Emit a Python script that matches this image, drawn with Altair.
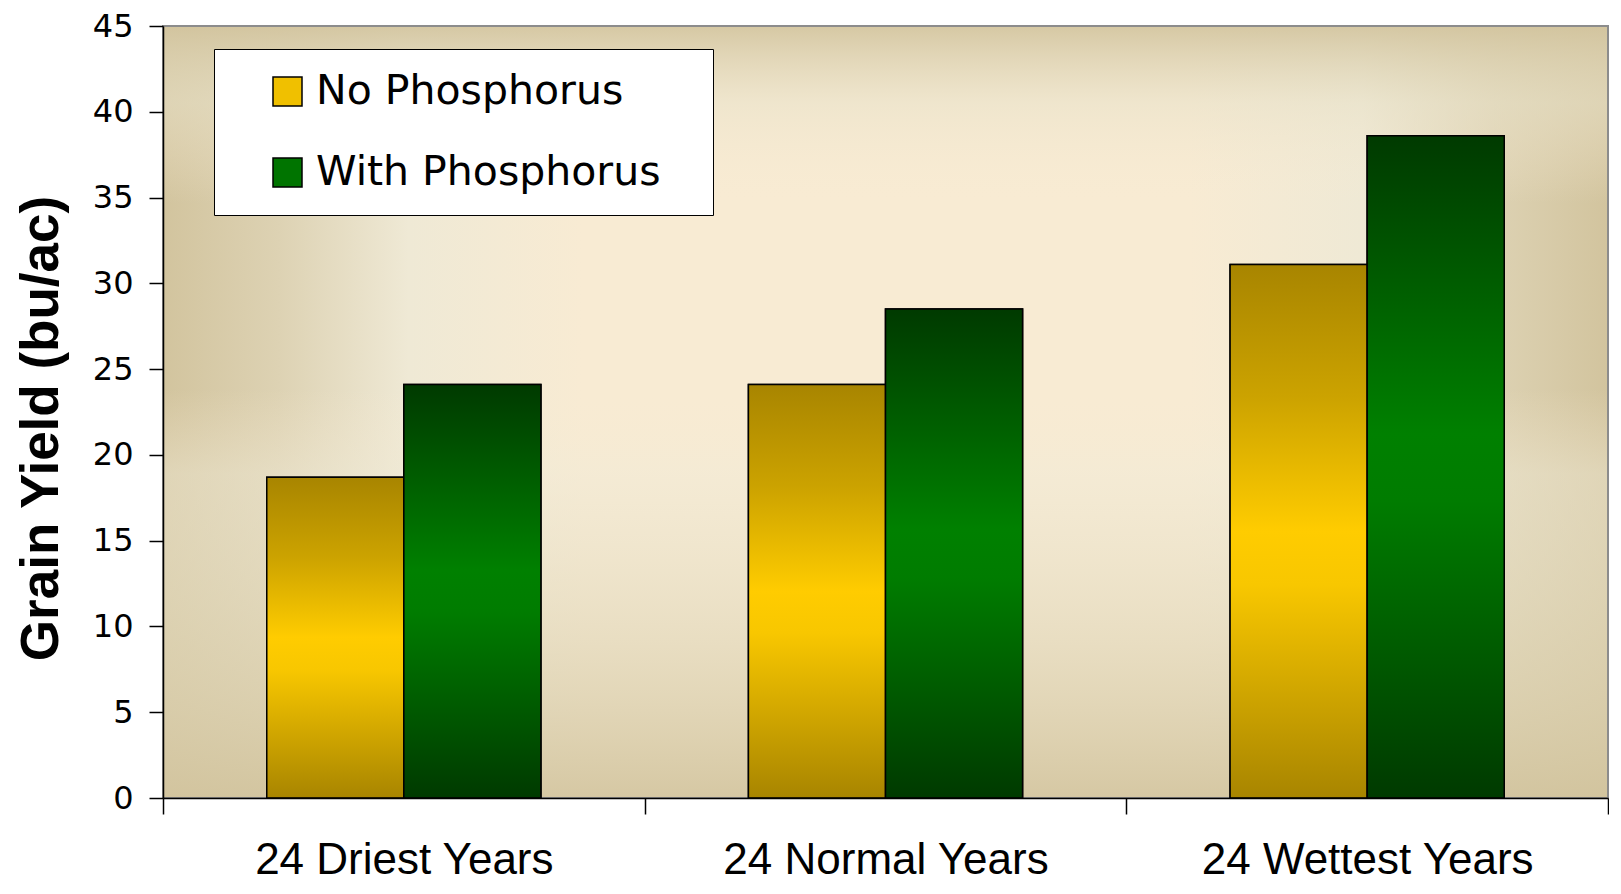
import altair as alt
import pandas as pd

categories = ["24 Driest Years", "24 Normal Years", "24 Wettest Years"]
series = ["No Phosphorus", "With Phosphorus"]
no_phosphorus = [18.7, 24.1, 31.1]
with_phosphorus = [24.1, 28.5, 38.6]
y_ticks = [0, 5, 10, 15, 20, 25, 30, 35, 40, 45]

rows = []
for c, a, b in zip(categories, no_phosphorus, with_phosphorus):
    rows.append({"period": c, "treatment": series[0], "yield": a})
    rows.append({"period": c, "treatment": series[1], "yield": b})
df = pd.DataFrame(rows)

W, H = 1445, 772

GOLD_GRAD = {
    "gradient": "linear", "x1": 0, "y1": 0, "x2": 0, "y2": 1,
    "stops": [
        {"offset": 0.0, "color": "#A88500"},
        {"offset": 0.25, "color": "#CCA300"},
        {"offset": 0.5, "color": "#FFCC00"},
        {"offset": 0.6, "color": "#F8C700"},
        {"offset": 1.0, "color": "#A88500"},
    ],
}
GREEN_GRAD = {
    "gradient": "linear", "x1": 0, "y1": 0, "x2": 0, "y2": 1,
    "stops": [
        {"offset": 0.0, "color": "#003A00"},
        {"offset": 0.45, "color": "#008000"},
        {"offset": 0.55, "color": "#007C00"},
        {"offset": 1.0, "color": "#003A00"},
    ],
}
H_GRAD = {
    "gradient": "linear", "x1": 0, "y1": 0, "x2": 1, "y2": 0,
    "stops": [
        {"offset": 0.0, "color": "#D2C49E"},
        {"offset": 0.08, "color": "#DDD2B3"},
        {"offset": 0.17, "color": "#EFE9D5"},
        {"offset": 0.29, "color": "#F8EBD3"},
        {"offset": 0.71, "color": "#F8EBD3"},
        {"offset": 0.83, "color": "#EFE9D5"},
        {"offset": 0.92, "color": "#DDD2B3"},
        {"offset": 1.0, "color": "#D2C49E"},
    ],
}
V_GRAD = {
    "gradient": "linear", "x1": 0, "y1": 0, "x2": 0, "y2": 1,
    "stops": [
        {"offset": 0.0, "color": "rgba(210,196,158,0.9)"},
        {"offset": 0.10, "color": "rgba(232,225,200,0.55)"},
        {"offset": 0.23, "color": "rgba(248,235,211,0)"},
        {"offset": 0.47, "color": "rgba(248,235,211,0)"},
        {"offset": 0.58, "color": "rgba(240,234,214,0.45)"},
        {"offset": 0.8, "color": "rgba(224,214,184,0.65)"},
        {"offset": 1.0, "color": "rgba(210,196,158,0.9)"},
    ],
}

x_enc = alt.X(
    "period:N", sort=categories,
    scale=alt.Scale(paddingInner=0, paddingOuter=0),
    axis=alt.Axis(
        title=None, labelAngle=0, labelFont="Liberation Sans", labelFontSize=44,
        labelColor="black", labelLimit=0, tickBand="extent", tickSize=16,
        tickColor="black", tickWidth=1.5, domainColor="black", domainWidth=1.5,
        labelPadding=24, zindex=1,
    ),
)
xo_enc = alt.XOffset(
    "treatment:N", sort=series,
    scale=alt.Scale(domain=series, paddingInner=0, paddingOuter=0.757),
)
y_enc = alt.Y(
    "yield:Q",
    scale=alt.Scale(domain=[0, 45], nice=False),
    axis=alt.Axis(
        values=y_ticks, grid=False, labelFont="DejaVu Sans", labelFontSize=32,
        labelColor="black", tickSize=14, tickColor="black", tickWidth=1.5,
        domainColor="black", domainWidth=1.5, labelPadding=16,
        title="Grain Yield (bu/ac)", titleFont="Liberation Sans", titleFontSize=53,
        titleFontWeight="bold", titleColor="black", titlePadding=24,
        titleY=H / 2 + 16, zindex=1,
    ),
)

panel = alt.Data(values=[{"panel": 1}])
bg_h = alt.Chart(panel).mark_rect(fill=H_GRAD).encode(
    x=alt.value(0), x2=alt.value("width"), y=alt.value(0), y2=alt.value("height")
)
bg_v = alt.Chart(panel).mark_rect(fill=V_GRAD, stroke="#8C8C8C", strokeWidth=2).encode(
    x=alt.value(0), x2=alt.value("width"), y=alt.value(0), y2=alt.value("height")
)

flat = alt.Chart(df).mark_bar(stroke="black", strokeWidth=1.5).encode(
    x=x_enc, xOffset=xo_enc, y=y_enc,
    color=alt.Color(
        "treatment:N",
        scale=alt.Scale(domain=series, range=["#F0C000", "#007400"]),
        legend=alt.Legend(
            title=" ", titleOrient="right", titlePadding=30, titleFontSize=10,
            orient="none", legendX=51, legendY=23,
            fillColor="white", strokeColor="black", padding=22,
            labelFont="DejaVu Sans", labelFontSize=41, labelColor="black",
            labelLimit=0,
            symbolType="square", symbolSize=841, symbolStrokeColor="black",
            symbolStrokeWidth=1.5, symbolOpacity=1, rowPadding=39,
            symbolOffset=31, labelOffset=8,
        ),
    ),
)

gold = alt.Chart(df).transform_filter(alt.datum.treatment == series[0]).mark_bar(
    fill=GOLD_GRAD, stroke="black", strokeWidth=1.5
).encode(x=x_enc, xOffset=xo_enc, y=y_enc)

green = alt.Chart(df).transform_filter(alt.datum.treatment == series[1]).mark_bar(
    fill=GREEN_GRAD, stroke="black", strokeWidth=1.5
).encode(x=x_enc, xOffset=xo_enc, y=y_enc)

chart = alt.layer(bg_h, bg_v, flat, gold, green).properties(
    width=W, height=H,
    padding={"left": 7, "top": 2, "right": 0, "bottom": 0},
).configure_view(stroke=None).configure(background="white")

chart.save("out.html", embed_options={"renderer": "svg", "actions": False})
